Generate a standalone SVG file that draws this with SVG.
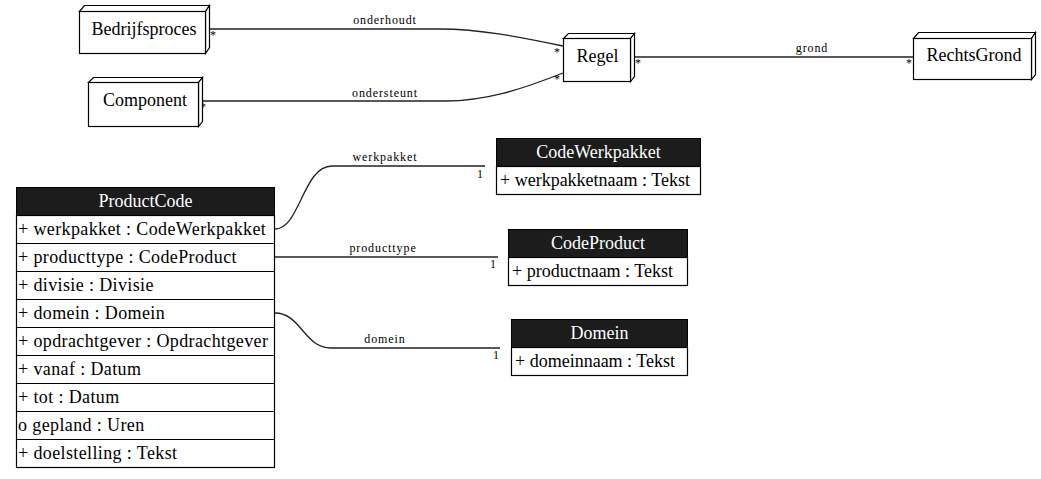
<svg xmlns="http://www.w3.org/2000/svg" width="1041" height="479" viewBox="0 0 1041 479" font-family="'Liberation Serif', 'DejaVu Serif', serif">
<style>
.bx{fill:#fff;stroke:#000;stroke-width:1.2}
.hd{fill:#1c1c1c;stroke:#000;stroke-width:1}
text{font-family:'Liberation Serif','DejaVu Serif',serif}
.t18{font-size:18px;fill:#000}
.pr{letter-spacing:0.38px}
.th{font-size:18px;fill:#fff;text-anchor:middle}
.tc{text-anchor:middle}
.lbl{font-size:12px;letter-spacing:0.9px;fill:#000;text-anchor:middle}
.m{font-size:12px;fill:#000;text-anchor:middle}
.ln{fill:none;stroke:#222;stroke-width:1.3}
</style>
<rect width="1041" height="479" fill="#fff"/>
<g id="connectors">
<path class="ln" d="M205,29 L440,29 C480,29 520,37 563,46"/>
<path class="ln" d="M198,101 L445,101 C485,101 520,90 563,73"/>
<path class="ln" d="M634,57 L913,57"/>
<path class="ln" d="M275,229 C300,229 303,166 332,166 L485,166"/>
<path class="ln" d="M275,257 L498,257"/>
<path class="ln" d="M275,313 C301,313 304,348 331,348 L500,348"/>
<text class="lbl" x="385" y="24">onderhoudt</text>
<text class="lbl" x="385" y="97">ondersteunt</text>
<text class="lbl" x="812" y="52">grond</text>
<text class="lbl" x="385" y="161">werkpakket</text>
<text class="lbl" x="383" y="252">producttype</text>
<text class="lbl" x="385" y="343">domein</text>
<text class="m" x="213" y="39">*</text>
<text class="m" x="203" y="111">*</text>
<text class="m" x="557" y="56">*</text>
<text class="m" x="557" y="83">*</text>
<text class="m" x="638" y="67">*</text>
<text class="m" x="909" y="67">*</text>
<text class="m" x="269" y="239">*</text>
<text class="m" x="269" y="267">*</text>
<text class="m" x="270" y="322">*</text>
<text class="m" x="480" y="178">1</text>
<text class="m" x="493" y="268">1</text>
<text class="m" x="496" y="359">1</text>
</g>
<g id="Bedrijfsproces">
<polygon class="bx" points="79.5,11.5 84.5,5.5 209.5,5.5 205.5,11.5"/>
<polygon class="bx" points="205.5,11.5 209.5,5.5 209.5,47.5 205.5,53.5"/>
<rect class="bx" x="79.5" y="11.5" width="126" height="42"/>
<text class="t18 tc" x="144" y="35">Bedrijfsproces</text>
</g>
<g id="Component">
<polygon class="bx" points="88.5,82.5 93.5,77.5 202.5,77.5 198.5,82.5"/>
<polygon class="bx" points="198.5,82.5 202.5,77.5 202.5,121.5 198.5,126.5"/>
<rect class="bx" x="88.5" y="82.5" width="110" height="44"/>
<text class="t18 tc" x="145" y="106">Component</text>
</g>
<g id="Regel">
<polygon class="bx" points="563.5,38.5 568.5,33.5 634.5,33.5 630.5,38.5"/>
<polygon class="bx" points="630.5,38.5 634.5,33.5 634.5,76.5 630.5,81.5"/>
<rect class="bx" x="563.5" y="38.5" width="67" height="43"/>
<text class="t18 tc" x="597.5" y="62">Regel</text>
</g>
<g id="RechtsGrond">
<polygon class="bx" points="913.5,38.5 918.5,32.5 1035.5,32.5 1031.5,38.5"/>
<polygon class="bx" points="1031.5,38.5 1035.5,32.5 1035.5,74.5 1031.5,79.5"/>
<rect class="bx" x="913.5" y="38.5" width="118" height="41"/>
<text class="t18 tc" x="974" y="61">RechtsGrond</text>
</g>
<g id="ProductCode">
<rect class="hd" x="16.5" y="187.5" width="258" height="28"/>
<rect class="bx" x="16.5" y="215.5" width="258" height="252"/>
<path stroke="#000" stroke-width="1.2" d="M16.5,243.5H274.5M16.5,271.5H274.5M16.5,299.5H274.5M16.5,327.5H274.5M16.5,355.5H274.5M16.5,383.5H274.5M16.5,411.5H274.5M16.5,439.5H274.5"/>
<text class="th" x="145.5" y="207">ProductCode</text>
<text class="t18 pr" x="18" y="235">+ werkpakket : CodeWerkpakket</text>
<text class="t18 pr" x="18" y="263">+ producttype : CodeProduct</text>
<text class="t18 pr" x="18" y="291">+ divisie : Divisie</text>
<text class="t18 pr" x="18" y="319">+ domein : Domein</text>
<text class="t18 pr" x="18" y="347">+ opdrachtgever : Opdrachtgever</text>
<text class="t18 pr" x="18" y="375">+ vanaf : Datum</text>
<text class="t18 pr" x="18" y="403">+ tot : Datum</text>
<text class="t18 pr" x="18" y="431">o gepland : Uren</text>
<text class="t18 pr" x="18" y="459">+ doelstelling : Tekst</text>
</g>
<g id="CodeWerkpakket">
<rect class="hd" x="496.5" y="138.5" width="204" height="28"/>
<rect class="bx" x="496.5" y="166.5" width="204" height="28"/>
<text class="th" x="598.5" y="158">CodeWerkpakket</text>
<text class="t18" x="500" y="186">+ werkpakketnaam : Tekst</text>
</g>
<g id="CodeProduct">
<rect class="hd" x="508.5" y="229.5" width="179" height="28"/>
<rect class="bx" x="508.5" y="257.5" width="179" height="28"/>
<text class="th" x="598" y="249">CodeProduct</text>
<text class="t18" x="512" y="277">+ productnaam : Tekst</text>
</g>
<g id="Domein">
<rect class="hd" x="511.5" y="319.5" width="176" height="28"/>
<rect class="bx" x="511.5" y="347.5" width="176" height="28"/>
<text class="th" x="599.5" y="339">Domein</text>
<text class="t18" x="515" y="367">+ domeinnaam : Tekst</text>
</g>
</svg>
